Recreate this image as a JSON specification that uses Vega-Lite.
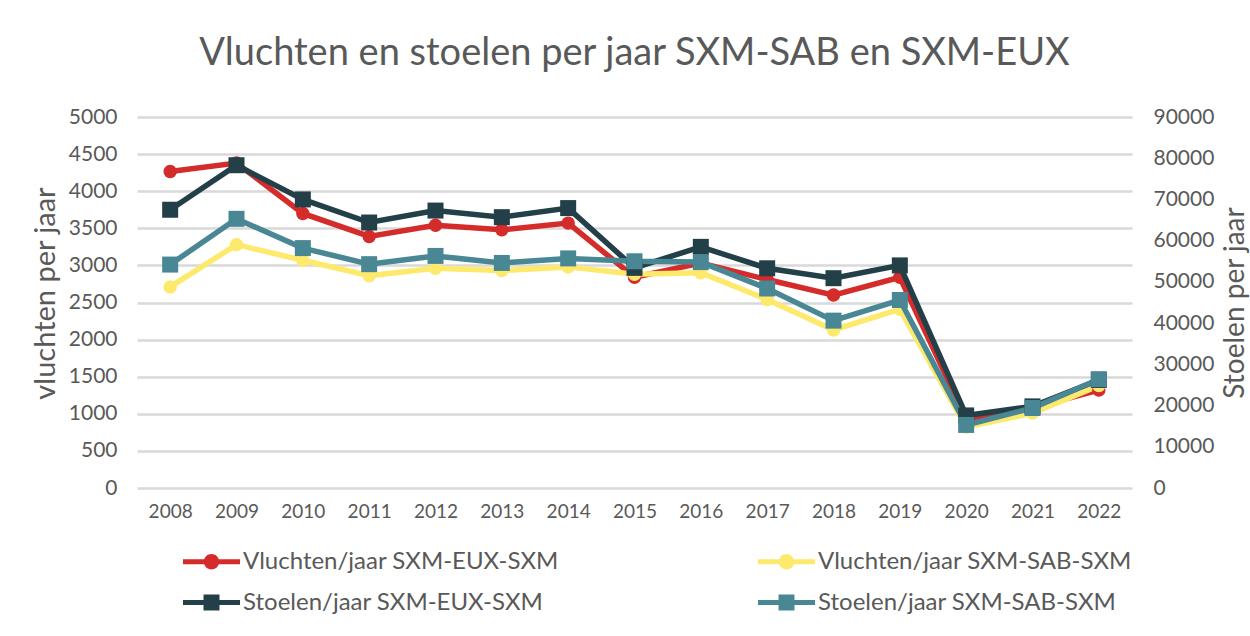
{
  "$schema": "https://vega.github.io/schema/vega-lite/v6.json",
  "width": 995,
  "height": 371,
  "autosize": {"type": "none"},
  "padding": {"left": 137, "top": 117, "right": 118, "bottom": 148},
  "background": "white",
  "config": {
    "font": "Lato",
    "view": {"stroke": null},
    "axis": {"labelColor": "#595959", "titleColor": "#595959", "titleFontWeight": "normal", "labelFont": "Lato", "titleFont": "Lato"}
  },
  "title": {"text": "Vluchten en stoelen per jaar SXM-SAB en SXM-EUX", "fontSize": 38, "font": "Lato", "fontWeight": "normal", "color": "#595959", "anchor": "middle", "offset": 33},
  "data": {"values": [
    {"year": "2008", "series": "Vluchten/jaar SXM-EUX-SXM", "value": 4265},
    {"year": "2009", "series": "Vluchten/jaar SXM-EUX-SXM", "value": 4380},
    {"year": "2010", "series": "Vluchten/jaar SXM-EUX-SXM", "value": 3700},
    {"year": "2011", "series": "Vluchten/jaar SXM-EUX-SXM", "value": 3390},
    {"year": "2012", "series": "Vluchten/jaar SXM-EUX-SXM", "value": 3540},
    {"year": "2013", "series": "Vluchten/jaar SXM-EUX-SXM", "value": 3480},
    {"year": "2014", "series": "Vluchten/jaar SXM-EUX-SXM", "value": 3570},
    {"year": "2015", "series": "Vluchten/jaar SXM-EUX-SXM", "value": 2840},
    {"year": "2016", "series": "Vluchten/jaar SXM-EUX-SXM", "value": 3030},
    {"year": "2017", "series": "Vluchten/jaar SXM-EUX-SXM", "value": 2810},
    {"year": "2018", "series": "Vluchten/jaar SXM-EUX-SXM", "value": 2600},
    {"year": "2019", "series": "Vluchten/jaar SXM-EUX-SXM", "value": 2840},
    {"year": "2020", "series": "Vluchten/jaar SXM-EUX-SXM", "value": 930},
    {"year": "2021", "series": "Vluchten/jaar SXM-EUX-SXM", "value": 1080},
    {"year": "2022", "series": "Vluchten/jaar SXM-EUX-SXM", "value": 1320},
    {"year": "2008", "series": "Vluchten/jaar SXM-SAB-SXM", "value": 2710},
    {"year": "2009", "series": "Vluchten/jaar SXM-SAB-SXM", "value": 3280},
    {"year": "2010", "series": "Vluchten/jaar SXM-SAB-SXM", "value": 3070},
    {"year": "2011", "series": "Vluchten/jaar SXM-SAB-SXM", "value": 2860},
    {"year": "2012", "series": "Vluchten/jaar SXM-SAB-SXM", "value": 2960},
    {"year": "2013", "series": "Vluchten/jaar SXM-SAB-SXM", "value": 2930},
    {"year": "2014", "series": "Vluchten/jaar SXM-SAB-SXM", "value": 2980},
    {"year": "2015", "series": "Vluchten/jaar SXM-SAB-SXM", "value": 2880},
    {"year": "2016", "series": "Vluchten/jaar SXM-SAB-SXM", "value": 2900},
    {"year": "2017", "series": "Vluchten/jaar SXM-SAB-SXM", "value": 2540},
    {"year": "2018", "series": "Vluchten/jaar SXM-SAB-SXM", "value": 2130},
    {"year": "2019", "series": "Vluchten/jaar SXM-SAB-SXM", "value": 2410},
    {"year": "2020", "series": "Vluchten/jaar SXM-SAB-SXM", "value": 820},
    {"year": "2021", "series": "Vluchten/jaar SXM-SAB-SXM", "value": 1010},
    {"year": "2022", "series": "Vluchten/jaar SXM-SAB-SXM", "value": 1380},
    {"year": "2008", "series": "Stoelen/jaar SXM-EUX-SXM", "value": 67500},
    {"year": "2009", "series": "Stoelen/jaar SXM-EUX-SXM", "value": 78300},
    {"year": "2010", "series": "Stoelen/jaar SXM-EUX-SXM", "value": 70000},
    {"year": "2011", "series": "Stoelen/jaar SXM-EUX-SXM", "value": 64400},
    {"year": "2012", "series": "Stoelen/jaar SXM-EUX-SXM", "value": 67300},
    {"year": "2013", "series": "Stoelen/jaar SXM-EUX-SXM", "value": 65700},
    {"year": "2014", "series": "Stoelen/jaar SXM-EUX-SXM", "value": 67900},
    {"year": "2015", "series": "Stoelen/jaar SXM-EUX-SXM", "value": 53400},
    {"year": "2016", "series": "Stoelen/jaar SXM-EUX-SXM", "value": 58500},
    {"year": "2017", "series": "Stoelen/jaar SXM-EUX-SXM", "value": 53300},
    {"year": "2018", "series": "Stoelen/jaar SXM-EUX-SXM", "value": 50900},
    {"year": "2019", "series": "Stoelen/jaar SXM-EUX-SXM", "value": 54000},
    {"year": "2020", "series": "Stoelen/jaar SXM-EUX-SXM", "value": 17600},
    {"year": "2021", "series": "Stoelen/jaar SXM-EUX-SXM", "value": 19800},
    {"year": "2022", "series": "Stoelen/jaar SXM-EUX-SXM", "value": 26200},
    {"year": "2008", "series": "Stoelen/jaar SXM-SAB-SXM", "value": 54200},
    {"year": "2009", "series": "Stoelen/jaar SXM-SAB-SXM", "value": 65300},
    {"year": "2010", "series": "Stoelen/jaar SXM-SAB-SXM", "value": 58200},
    {"year": "2011", "series": "Stoelen/jaar SXM-SAB-SXM", "value": 54300},
    {"year": "2012", "series": "Stoelen/jaar SXM-SAB-SXM", "value": 56300},
    {"year": "2013", "series": "Stoelen/jaar SXM-SAB-SXM", "value": 54600},
    {"year": "2014", "series": "Stoelen/jaar SXM-SAB-SXM", "value": 55700},
    {"year": "2015", "series": "Stoelen/jaar SXM-SAB-SXM", "value": 55000},
    {"year": "2016", "series": "Stoelen/jaar SXM-SAB-SXM", "value": 54800},
    {"year": "2017", "series": "Stoelen/jaar SXM-SAB-SXM", "value": 48400},
    {"year": "2018", "series": "Stoelen/jaar SXM-SAB-SXM", "value": 40600},
    {"year": "2019", "series": "Stoelen/jaar SXM-SAB-SXM", "value": 45600},
    {"year": "2020", "series": "Stoelen/jaar SXM-SAB-SXM", "value": 15300},
    {"year": "2021", "series": "Stoelen/jaar SXM-SAB-SXM", "value": 19400},
    {"year": "2022", "series": "Stoelen/jaar SXM-SAB-SXM", "value": 26400}
  ]},
  "encoding": {
    "x": {"field": "year", "type": "ordinal", "scale": {"type": "point", "padding": 0.5},
      "axis": {"title": null, "labelAngle": 0, "domain": false, "ticks": false, "labelPadding": 14, "labelFontSize": 19}},
    "color": {"field": "series", "type": "nominal",
      "scale": {"domain": ["Vluchten/jaar SXM-EUX-SXM", "Vluchten/jaar SXM-SAB-SXM", "Stoelen/jaar SXM-EUX-SXM", "Stoelen/jaar SXM-SAB-SXM"],
                "range": ["#d42b2b", "#fde96c", "#233f47", "#4a8794"]},
      "legend": {"title": null, "orient": "none", "legendX": 46, "legendY": 416, "direction": "horizontal", "columns": 2,
        "columnPadding": 199, "rowPadding": -12, "symbolSize": 3249, "labelFontSize": 24, "labelColor": "#595959", "labelFont": "Lato", "labelOffset": 3, "labelLimit": 0,
        "encode": {"symbols": {"update": {
          "shape": {"signal": "indexof(datum.value, 'Vluchten') === 0 ? 'M-1,-0.09L1,-0.09L1,0.09L-1,0.09Z M-0.27,0A0.27,0.27 0 1,1 0.27,0A0.27,0.27 0 1,1 -0.27,0Z' : 'M-1,-0.09L1,-0.09L1,0.09L-1,0.09Z M-0.28,-0.28L0.28,-0.28L0.28,0.28L-0.28,0.28Z'"},
          "fill": {"scale": "color", "field": "value"},
          "stroke": {"value": "transparent"},
          "strokeWidth": {"value": 0},
          "opacity": {"value": 1}
        }}}}
    }
  },
  "layer": [
    {
      "transform": [{"filter": "indexof(datum.series, 'Vluchten') === 0"}],
      "encoding": {
        "y": {"field": "value", "type": "quantitative",
          "scale": {"domain": [0, 5000], "nice": false},
          "axis": {"orient": "left", "title": "vluchten per jaar", "titleFontSize": 29, "titlePadding": 8, "titleY": 176,
            "values": [0, 500, 1000, 1500, 2000, 2500, 3000, 3500, 4000, 4500, 5000], "format": "d",
            "domain": false, "ticks": false, "labelPadding": 20, "labelFontSize": 21,
            "grid": true, "gridColor": "#d9d9d9", "gridWidth": 2.5}}
      },
      "layer": [
        {"mark": {"type": "line", "strokeWidth": 5.5}},
        {"mark": {"type": "point", "shape": "circle", "filled": true, "size": 180, "opacity": 1}}
      ]
    },
    {
      "transform": [{"filter": "indexof(datum.series, 'Stoelen') === 0"}],
      "encoding": {
        "y": {"field": "value", "type": "quantitative",
          "scale": {"domain": [0, 90000], "nice": false},
          "axis": {"orient": "right", "title": "Stoelen per jaar", "titleFontSize": 28, "titlePadding": 36, "titleAngle": 270,
            "values": [0, 10000, 20000, 30000, 40000, 50000, 60000, 70000, 80000, 90000], "format": "d",
            "domain": false, "ticks": false, "labelPadding": 21, "labelFontSize": 21, "grid": false}}
      },
      "layer": [
        {"mark": {"type": "line", "strokeWidth": 5.5}},
        {"mark": {"type": "point", "shape": "square", "filled": true, "size": 256, "opacity": 1}}
      ]
    }
  ],
  "resolve": {"scale": {"y": "independent"}}
}
